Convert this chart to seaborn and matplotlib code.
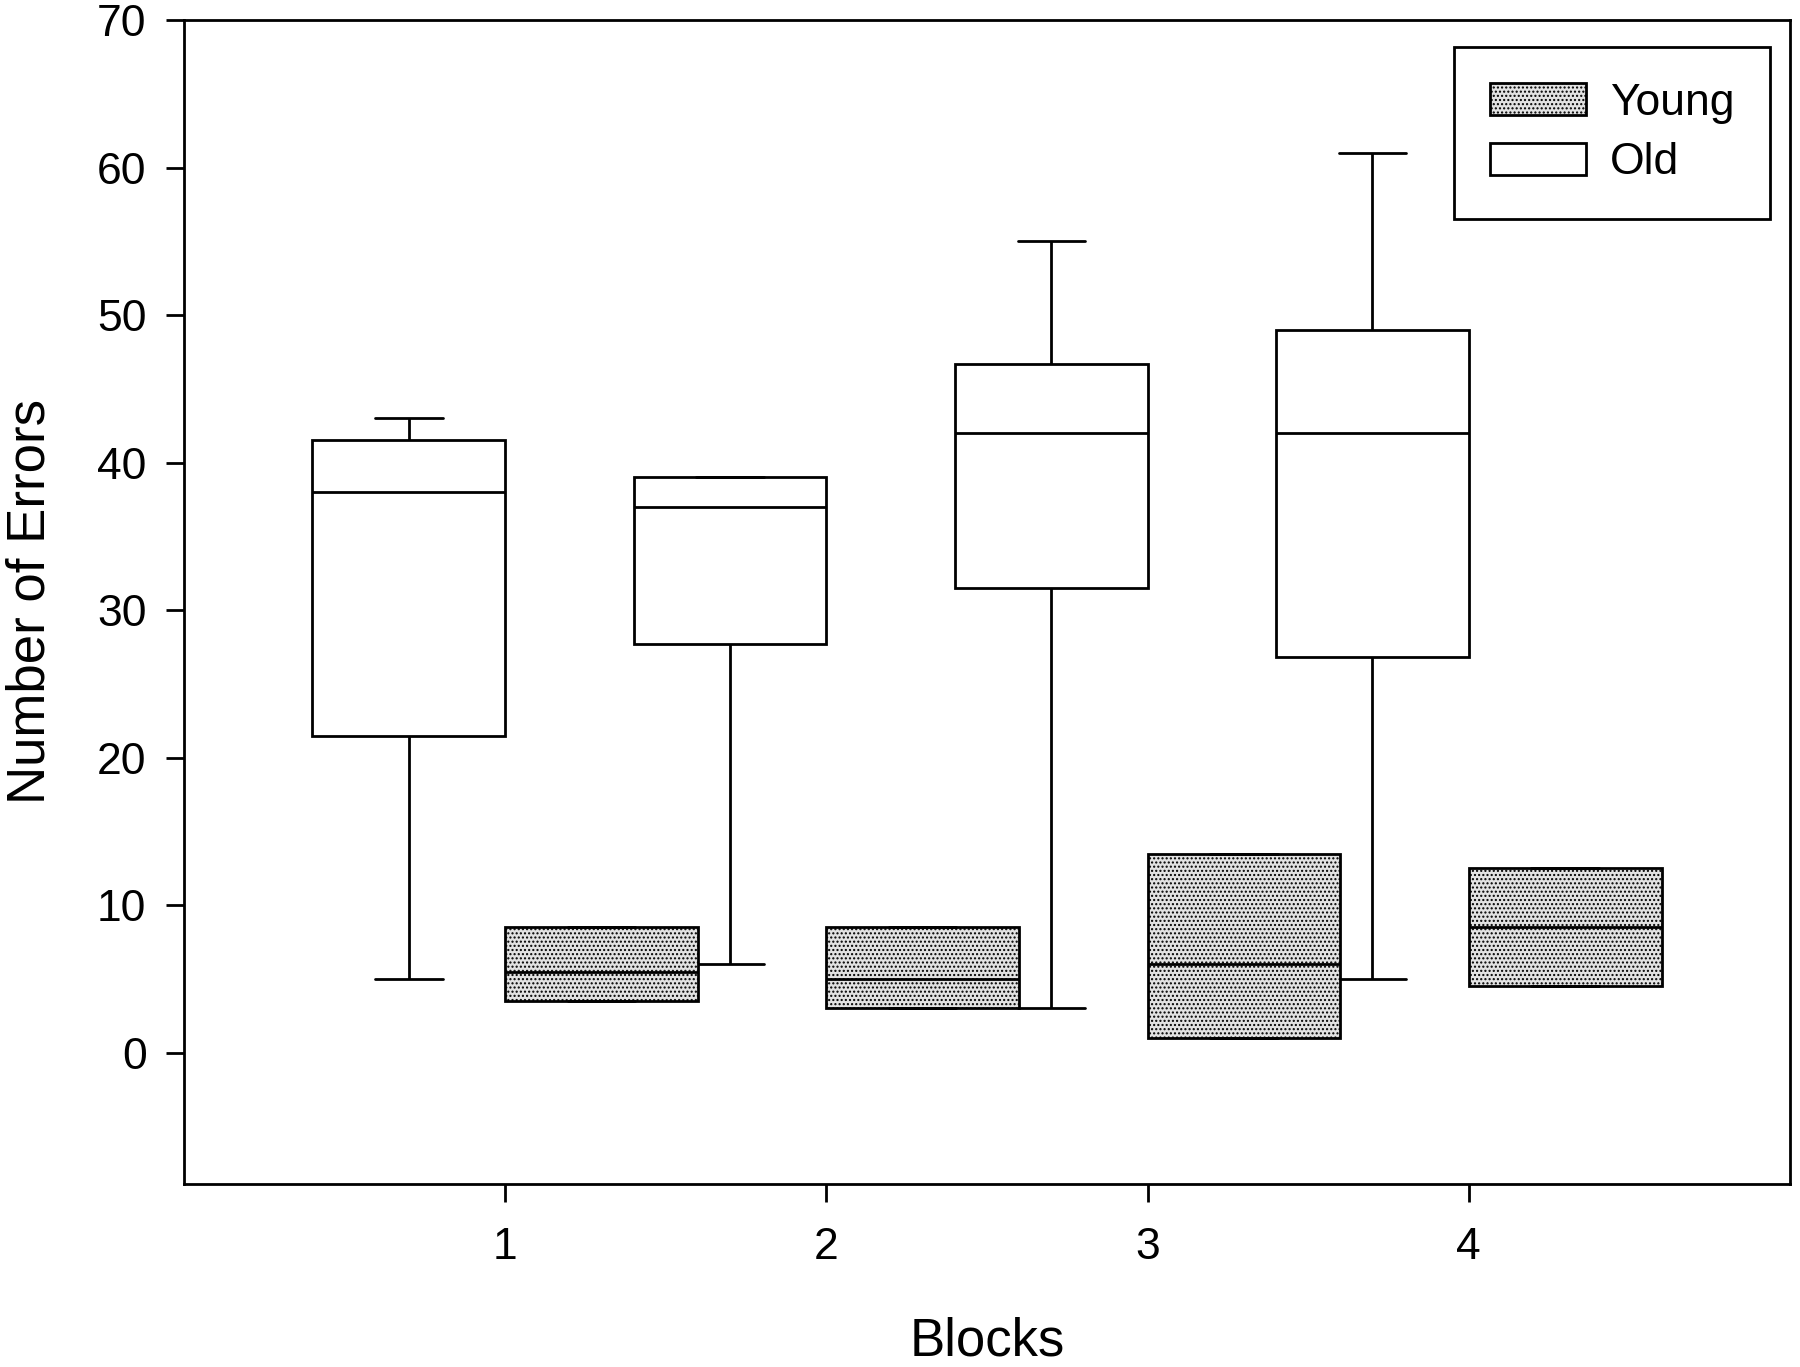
import numpy as np
import pandas as pd
import matplotlib
matplotlib.use("Agg")
import matplotlib.pyplot as plt
from matplotlib.patches import Patch
import seaborn as sns

# ---------------- data ----------------
blocks = [1, 2, 3, 4]
x_tick_labels = ["1", "2", "3", "4"]
y_ticks = [0, 10, 20, 30, 40, 50, 60, 70]

old_low = [5.0, 6.0, 3.0, 5.0]
old_q1 = [21.5, 27.7, 31.5, 26.8]
old_median = [38.0, 37.0, 42.0, 42.0]
old_q3 = [41.5, 39.0, 46.7, 49.0]
old_high = [43.0, 39.0, 55.0, 61.0]

young_q1 = [3.5, 3.0, 1.0, 4.5]
young_median = [5.5, 5.0, 6.0, 8.5]
young_q3 = [8.5, 8.5, 13.5, 12.5]

legend_order = ["Young", "Old"]

# ---------------- build long table (5 points reproduce the 5-number summary) ----
rows = []
for i, b in enumerate(blocks):
    for v in (old_low[i], old_q1[i], old_median[i], old_q3[i], old_high[i]):
        rows.append({"Block": b, "Group": "Old", "Errors": v})
    for v in (young_q1[i], young_q1[i], young_median[i], young_q3[i], young_q3[i]):
        rows.append({"Block": b, "Group": "Young", "Errors": v})
df = pd.DataFrame(rows)

# ---------------- style ----------------
sns.set_style("ticks")
plt.rcParams["font.family"] = ["Liberation Sans", "DejaVu Sans"]
plt.rcParams["hatch.linewidth"] = 1.0
plt.rcParams["text.color"] = "black"
plt.rcParams["axes.labelcolor"] = "black"
plt.rcParams["xtick.color"] = "black"
plt.rcParams["ytick.color"] = "black"

YOUNG_FILL = "#e2e2e2"
HATCH = "...."
LW = 2.0

fig = plt.figure(figsize=(18, 13.67), dpi=100)
ax = fig.add_axes([184 / 1800, 1 - 1184 / 1367, (1790 - 184) / 1800, (1184 - 20) / 1367])

sns.boxplot(
    data=df, x="Block", y="Errors", hue="Group", hue_order=["Old", "Young"],
    native_scale=True, width=1.2, gap=0, whis=(0, 100),
    palette={"Old": "white", "Young": YOUNG_FILL}, saturation=1,
    linecolor="black", linewidth=LW, showfliers=False, legend=False, ax=ax,
)

# stippled fill for Young boxes
for p in ax.patches:
    fc = p.get_facecolor()
    if not np.allclose(fc[:3], (1, 1, 1)):
        p.set_hatch(HATCH)
        p.set_edgecolor("black")

# shorter whisker caps
for ln in ax.lines:
    xd = np.asarray(ln.get_xdata(), dtype=float)
    yd = np.asarray(ln.get_ydata(), dtype=float)
    if len(xd) == 2 and np.isclose(yd[0], yd[1]) and np.isclose(abs(xd[1] - xd[0]), 0.3):
        c = xd.mean()
        ln.set_xdata([c - 0.105, c + 0.105])

ax.set_xlim(0, 5)
ax.set_ylim(-8.9, 70)
ax.set_xticks(blocks)
ax.set_xticklabels(x_tick_labels)
ax.set_yticks(y_ticks)

for s in ax.spines.values():
    s.set_visible(True)
    s.set_linewidth(LW)
    s.set_color("black")

ax.tick_params(axis="both", direction="out", length=13, width=LW, labelsize=32,
               colors="black", labelcolor="black")
ax.tick_params(axis="x", pad=18)
ax.tick_params(axis="y", pad=14)

ax.set_xlabel("Blocks", fontsize=38, color="black")
ax.set_ylabel("Number of Errors", fontsize=38, color="black")
ax.xaxis.set_label_coords(0.5, -0.1135)
ax.yaxis.set_label_coords(-0.080, 0.5)

handles = [
    Patch(facecolor=YOUNG_FILL, edgecolor="black", hatch=HATCH, linewidth=LW, label="Young"),
    Patch(facecolor="white", edgecolor="black", linewidth=LW, label="Old"),
]
leg = ax.legend(
    handles=handles, labels=legend_order, loc="upper right",
    bbox_to_anchor=(1 - 20 / 1606, 1 - 27 / 1164), borderaxespad=0,
    fontsize=32, frameon=True, fancybox=False, edgecolor="black", framealpha=1,
    handlelength=2.15, handleheight=0.72, handletextpad=0.55, borderpad=0.8,
    labelspacing=0.42,
)
leg.get_frame().set_linewidth(LW)
for t in leg.get_texts():
    t.set_color("black")

fig.savefig("out.png", dpi=100, facecolor="white")
